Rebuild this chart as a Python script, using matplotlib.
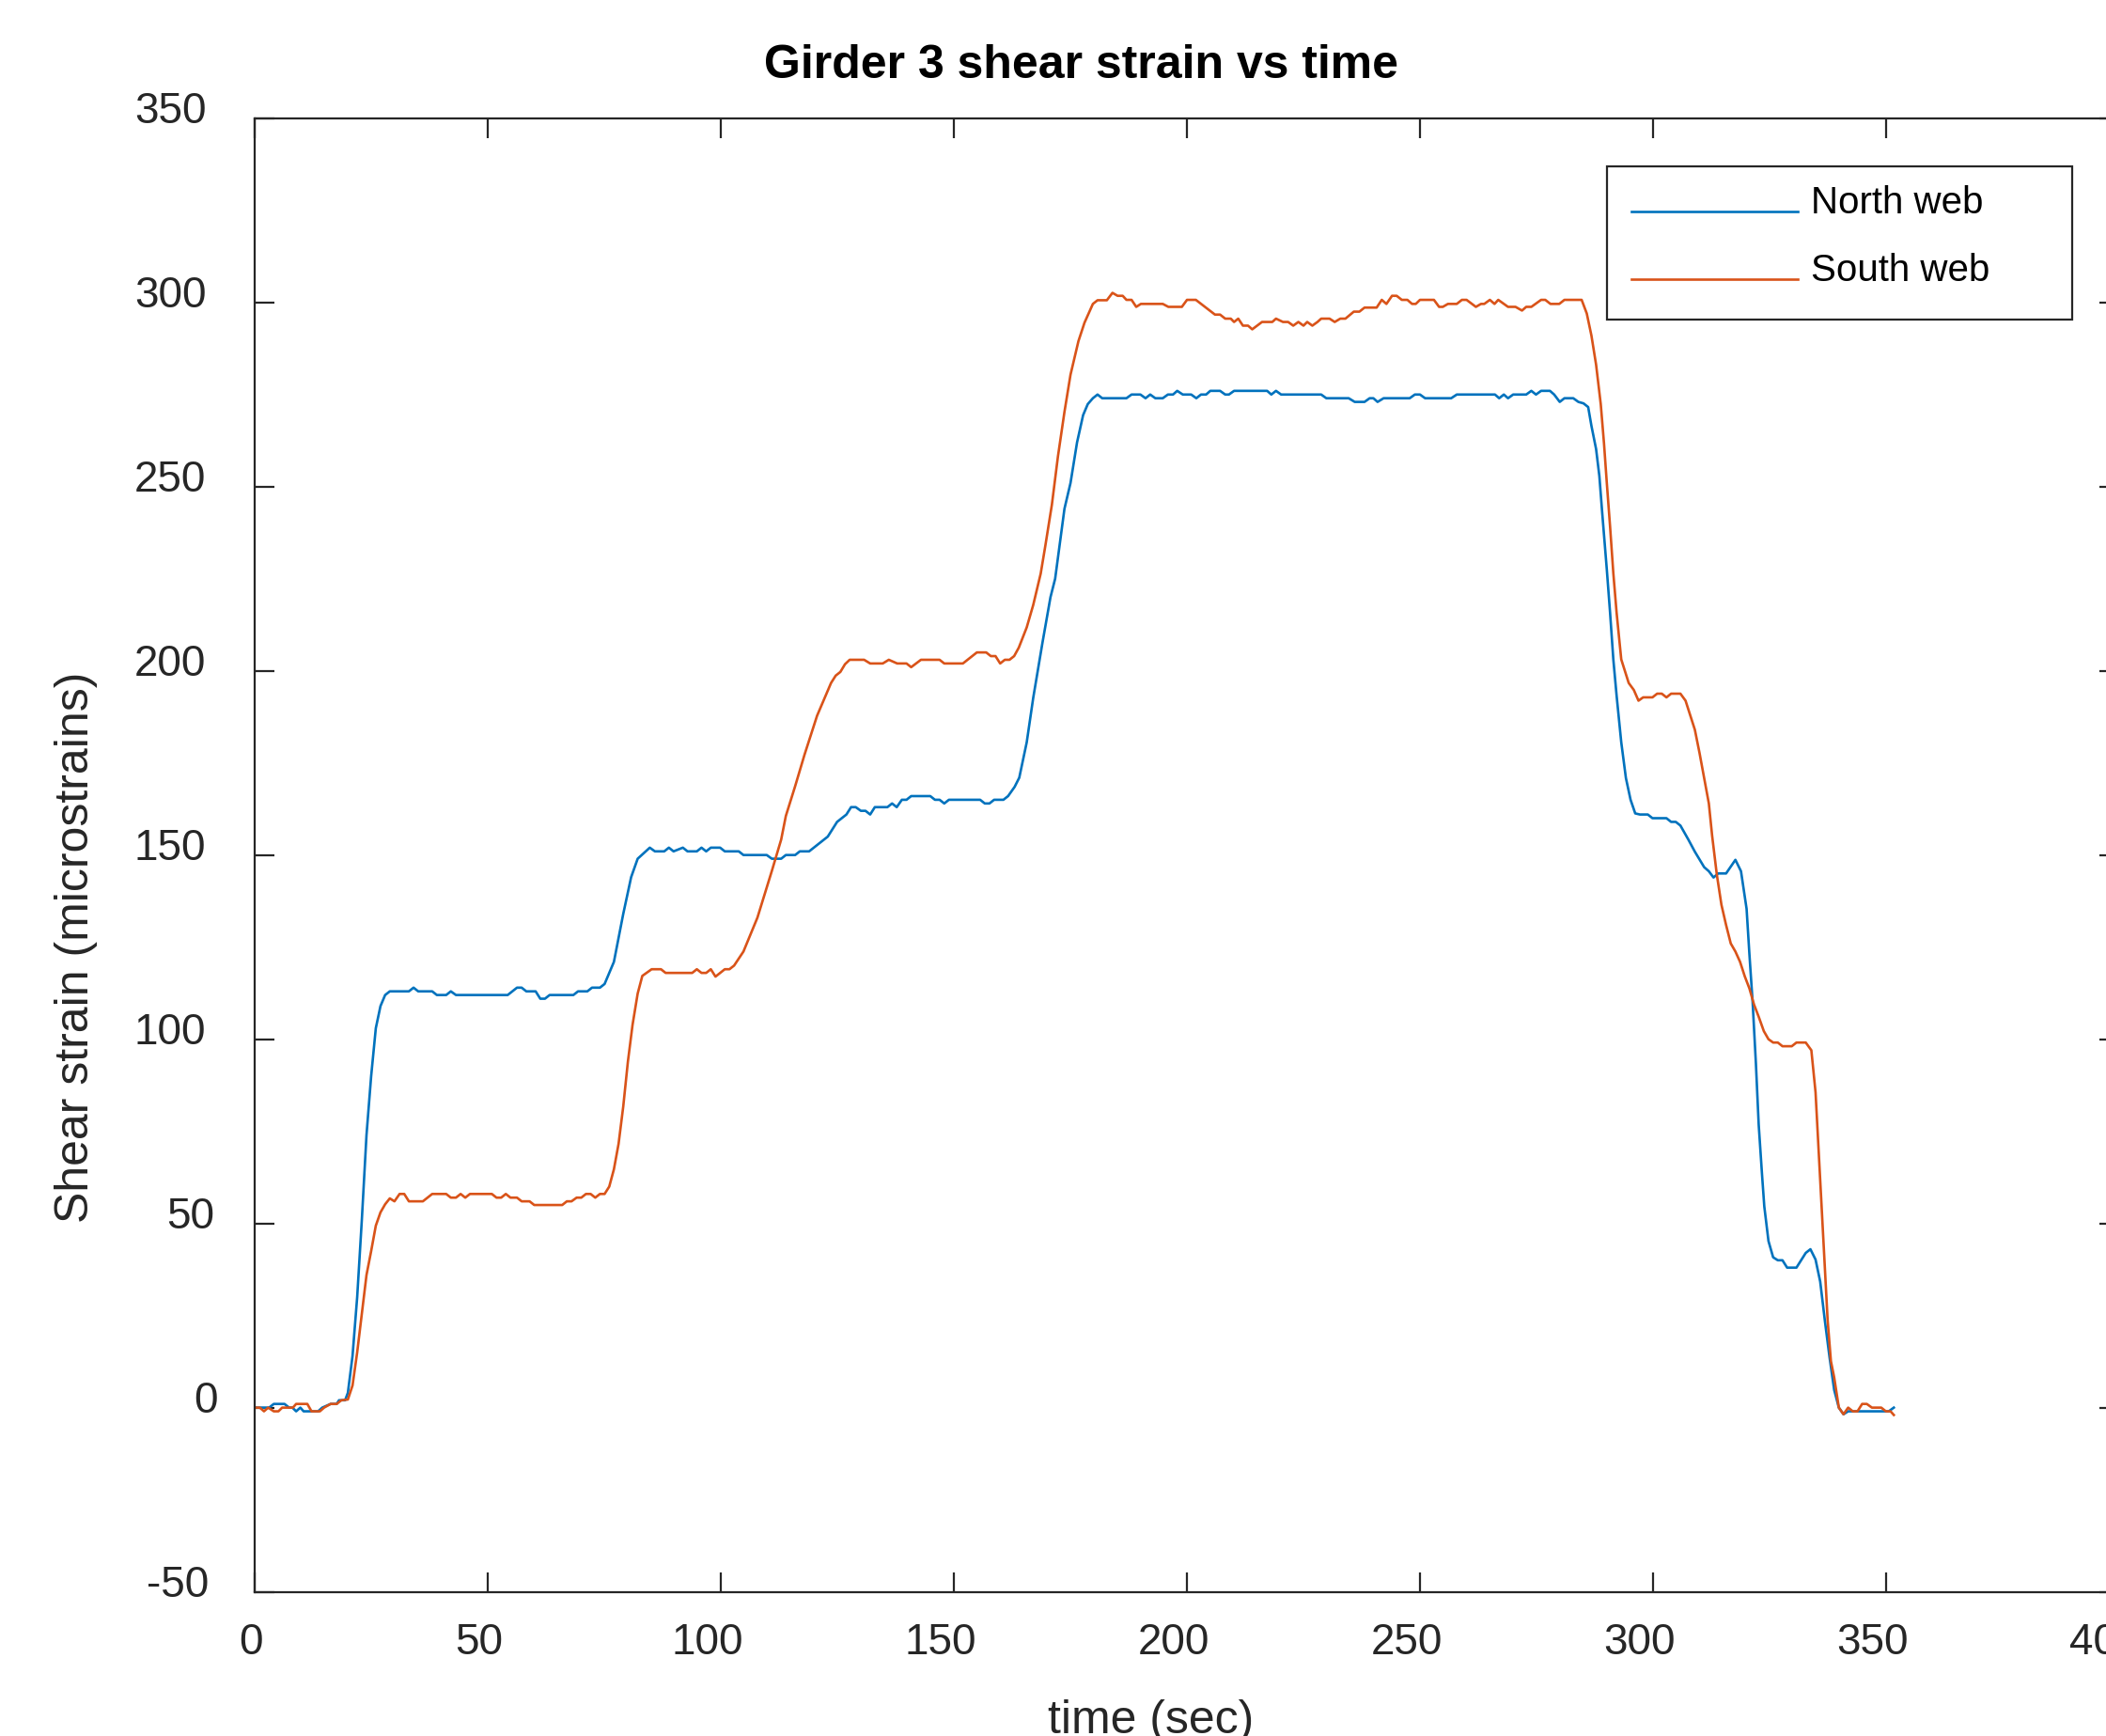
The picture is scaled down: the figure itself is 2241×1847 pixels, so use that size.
import matplotlib
matplotlib.use('Agg')
import matplotlib.pyplot as plt
from matplotlib.transforms import ScaledTranslation

plt.rcParams['font.family'] = ['Liberation Sans', 'DejaVu Sans']

# values (time in sec, strain in microstrains)
north_t = [0, 3, 4, 6.3, 7.3, 8, 8.8, 9.7, 10.4, 13.5,
           14.4, 16.2, 17.5, 18, 19.3, 19.9, 20.9, 21.9, 22.9, 23.9,
           24.9, 25.9, 26.9, 27.9, 28.9, 33, 34, 35, 38, 39,
           41, 42, 43.1, 54.2, 56.2, 57.2, 58.2, 60.2, 61.2, 62.2,
           63.2, 68.3, 69.3, 71.3, 72.3, 74, 75, 77, 79, 80.7,
           82.1, 84.7, 85.8, 87.8, 88.8, 89.8, 91.8, 92.8, 94.8, 95.8,
           96.8, 97.8, 99.8, 100.8, 103.8, 104.8, 109.8, 110.9, 112.9, 113.9,
           115.9, 116.9, 118.9, 120.9, 122.9, 124.9, 126.9, 127.9, 128.9, 130,
           131, 132, 133, 135.7, 136.7, 137.7, 138.8, 139.8, 140.8, 144.9,
           145.9, 146.9, 147.9, 148.9, 155.6, 156.6, 157.6, 158.6, 160.6, 161.6,
           163, 164, 165.6, 167, 169, 170.7, 171.7, 173.7, 175, 176.4,
           177.7, 178.7, 179.8, 180.8, 181.8, 187, 188.1, 190, 191.1, 192.1,
           193.2, 194.8, 195.9, 197, 197.9, 199.1, 200.9, 202, 203, 204.1,
           205, 207.1, 208.2, 209, 210.1, 217.2, 218.1, 219.1, 220.2, 228.8,
           229.9, 234.7, 236, 238.1, 239.2, 240, 240.9, 242.2, 247.8, 248.9,
           250, 251.1, 256.7, 257.9, 266.1, 267, 268, 268.9, 270, 272.8,
           273.9, 274.9, 276, 277.9, 278.8, 280, 281, 282.9, 284, 285.1,
           286.1, 286.8, 287.8, 288.5, 289.1, 290.1, 290.8, 291.5, 292.2, 293.2,
           294.2, 295.2, 296.2, 297.2, 298.9, 299.9, 302.9, 303.9, 304.9, 305.9,
           307.6, 309, 311, 312, 313, 314, 315.7, 317.7, 318.9, 320.1,
           320.7, 321.4, 322.1, 322.7, 323.4, 323.9, 324.8, 325.8, 326.8, 327.8,
           328.8, 330.8, 331.8, 332.8, 333.8, 334.9, 335.9, 336.9, 337.9, 338.9,
           339.9, 340.9, 341.9, 350.6, 351.7]
north_v = [0, 0, 1, 1, 0, 0, -1, 0, -1, -1,
           0, 1, 1, 2, 2, 4, 14, 30, 51, 74,
           90, 103, 109, 112, 113, 113, 114, 113, 113, 112,
           112, 113, 112, 112, 114, 114, 113, 113, 111, 111,
           112, 112, 113, 113, 114, 114, 115, 121, 134, 144,
           149, 152, 151, 151, 152, 151, 152, 151, 151, 152,
           151, 152, 152, 151, 151, 150, 150, 149, 149, 150,
           150, 151, 151, 153, 155, 159, 161, 163, 163, 162,
           162, 161, 163, 163, 164, 163, 165, 165, 166, 166,
           165, 165, 164, 165, 165, 164, 164, 165, 165, 166,
           168.5, 171, 180.6, 192.7, 207.8, 220, 225, 244, 251, 262,
           269.4, 272.4, 274, 275, 274, 274, 275, 275, 274, 275,
           274, 274, 275, 275, 276, 275, 275, 274, 275, 275,
           276, 276, 275, 275, 276, 276, 275, 276, 275, 275,
           274, 274, 273, 273, 274, 274, 273, 274, 274, 275,
           275, 274, 274, 275, 275, 274, 275, 274, 275, 275,
           276, 275, 276, 276, 275, 273, 274, 274, 273, 272.6,
           271.6, 266.5, 260.2, 252.9, 243.1, 227.5, 215.8, 203.1, 193.3, 180.6,
           170.9, 165, 161.3, 161, 161, 160, 160, 159, 159, 158,
           154.2, 150.9, 146.7, 145.6, 143.9, 145, 145, 148.7, 145.6, 135.4,
           123.2, 110, 93.4, 76.8, 63.5, 54.6, 45.2, 40.8, 40, 40,
           38, 38, 40, 42, 43, 40.2, 34.2, 23.6, 13.7, 4.8,
           0, -1.8, -1, -1, 0]

south_t = [0, 1, 1.9, 2.8, 4, 5, 5.8, 8.1, 8.8, 11.2,
           12.1, 13.9, 14.8, 16.2, 17.5, 18.5, 19.9, 20.9, 21.9, 22.9,
           23.9, 24.9, 25.9, 26.9, 27.9, 28.9, 29.9, 31, 32, 33,
           36, 38, 41, 42, 43.1, 44.1, 45.1, 46.1, 50.8, 51.8,
           52.8, 53.8, 54.8, 56.2, 57.2, 58.9, 59.9, 65.9, 66.9, 67.9,
           69, 70, 71, 72, 73, 74, 75, 76, 77, 78,
           79, 80, 81, 82.1, 83.1, 85.1, 87.1, 88.1, 93.8, 94.8,
           95.8, 96.8, 97.8, 98.8, 100.8, 101.8, 102.8, 104.8, 107.8, 110.9,
           112.9, 113.9, 115.9, 117.9, 120.6, 123.6, 124.6, 125.6, 126.6, 127.6,
           130.7, 132, 134.7, 136, 137.8, 139.8, 140.8, 142.9, 146.9, 147.9,
           151.9, 154.9, 156.9, 157.9, 158.9, 159.9, 160.9, 161.9, 162.9, 163.9,
           165.6, 167, 168.6, 169.6, 171, 172.3, 173.7, 175, 176.7, 178,
           179.8, 180.8, 182.8, 184, 185.1, 186.2, 187, 188.1, 189.1, 190.1,
           194.8, 196, 198.9, 200, 201.9, 206, 207.1, 208.2, 209.4, 210.1,
           211, 212, 213.1, 214, 216.1, 218.3, 219.1, 220.6, 221.7, 222.8,
           223.9, 225, 225.8, 226.9, 228, 228.8, 230.6, 231.7, 232.9, 234,
           235.8, 237, 238.1, 240.7, 241.8, 242.8, 244, 245, 246.1, 247.3,
           248.3, 249.1, 250, 253, 254.1, 254.9, 256, 257.9, 259, 260,
           262, 263.1, 263.8, 265, 266, 266.8, 268.9, 270.5, 271.9, 272.8,
           273.9, 276, 276.9, 278, 279.9, 281, 284.7, 285.8, 286.8, 287.8,
           288.8, 289.5, 290.1, 290.8, 291.5, 292.2, 293.2, 294.8, 295.9, 296.9,
           297.9, 299.9, 300.9, 301.9, 302.9, 303.9, 305.9, 307, 309, 310,
           312, 312.7, 313.7, 314.7, 315.7, 316.7, 317.7, 318.7, 319.7, 320.7,
           321.7, 322.7, 323.8, 324.8, 325.8, 326.8, 327.8, 329.8, 330.8, 332.8,
           334, 334.9, 335.5, 336.2, 336.9, 337.5, 338.2, 338.9, 339.9, 340.9,
           341.9, 342.9, 343.9, 344.9, 345.9, 347, 349, 350, 351, 351.7]
south_v = [0, 0, -1, 0, -1, -1, 0, 0, 1, 1,
           -1, -1, 0, 1, 1, 2, 2.2, 6, 15, 25.5,
           36, 42.5, 49.4, 53, 55.2, 56.8, 56, 58, 58, 56,
           56, 58, 58, 57, 57, 58, 57, 58, 58, 57,
           57, 58, 57, 57, 56, 56, 55, 55, 56, 56,
           57, 57, 58, 58, 57, 58, 58, 60, 64.7, 71.6,
           81.7, 93.9, 103.9, 112.4, 117.2, 119, 119, 118, 118, 119,
           118, 118, 119, 117, 119, 119, 120, 123.8, 133, 145.7,
           154.2, 160.6, 168.7, 177.2, 187.8, 196.7, 198.7, 199.7, 201.8, 203,
           203, 202, 202, 203, 202, 202, 201, 203, 203, 202,
           202, 205, 205, 204, 204, 202, 203, 203, 204, 206.3,
           211.8, 217.9, 226.4, 234, 245.1, 258.2, 270.3, 280.4, 289.5, 294.5,
           299.6, 300.6, 300.6, 302.6, 301.8, 301.8, 300.7, 300.7, 298.8, 299.6,
           299.6, 298.8, 298.8, 300.7, 300.7, 296.7, 296.7, 295.6, 295.6, 294.7,
           295.6, 293.7, 293.7, 292.7, 294.7, 294.7, 295.6, 294.7, 294.7, 293.7,
           294.7, 293.7, 294.7, 293.7, 294.7, 295.6, 295.6, 294.7, 295.6, 295.6,
           297.5, 297.5, 298.6, 298.6, 300.7, 299.6, 301.8, 301.8, 300.7, 300.7,
           299.6, 299.6, 300.7, 300.7, 298.8, 298.8, 299.6, 299.6, 300.7, 300.7,
           298.8, 299.6, 299.6, 300.7, 299.6, 300.7, 298.8, 298.8, 297.8, 298.8,
           298.8, 300.7, 300.7, 299.6, 299.6, 300.7, 300.7, 297, 291, 283.1,
           272.4, 261.7, 251, 239.2, 226.5, 215.8, 203.1, 196.7, 194.8, 191.9,
           192.8, 192.8, 193.8, 193.8, 192.8, 193.8, 193.8, 191.9, 184, 177.7,
           164, 155.3, 144.8, 136.5, 131, 126, 123.8, 121, 117.1, 113.8,
           109.4, 106.1, 102.2, 100, 99.1, 99.1, 98.1, 98.1, 99.1, 99.1,
           97, 85.6, 71.2, 54.6, 38, 23.6, 12.6, 8.2, 0, -1.8,
           0, -1, -1, 1, 1, 0, 0, -1, -1, -2]

x_ticks = [0, 50, 100, 150, 200, 250, 300, 350, 400]
y_ticks = [-50, 0, 50, 100, 150, 200, 250, 300, 350]

axis_col = '#262626'


def text_shift(s):
    # labels in the reference sit a bit left of their tick, more for wider labels
    w = sum(14.8 if c == '-' else 24.7 for c in s)
    return -0.19 * w / 100.0


# y labels measured one by one (px)
y_shift = {'-50': -11, '0': -1.5, '50': -5}

fig = plt.figure(figsize=(22.41, 18.47), dpi=100)
ax = fig.add_axes([0.12115, 0.08305, 0.88496, 0.84884])

ax.plot(north_t, north_v, color='#0072BD', lw=1.9, label='North web')
ax.plot(south_t, south_v, color='#D95319', lw=1.9, label='South web')

ax.set_xlim(0, 400)
ax.set_ylim(-50, 350)
ax.set_xticks(x_ticks, [str(t) for t in x_ticks])
ax.set_yticks(y_ticks, [str(t) for t in y_ticks])
ax.tick_params(direction='in', length=15, width=1.6, top=True, right=True,
               labelsize=33, colors=axis_col)
ax.tick_params(axis='x', pad=23)
ax.tick_params(axis='y', pad=27.5)
for sp in ax.spines.values():
    sp.set_color(axis_col)
    sp.set_linewidth(1.6)

for lab in ax.get_xticklabels():
    lab.set_transform(lab.get_transform() +
                      ScaledTranslation(text_shift(lab.get_text()), 0, fig.dpi_scale_trans))
for lab in ax.get_yticklabels():
    s = lab.get_text()
    dx = y_shift.get(s, -14) / 100.0
    lab.set_transform(lab.get_transform() +
                      ScaledTranslation(dx, 0.12, fig.dpi_scale_trans))

ax.set_title('Girder 3 shear strain vs time', fontsize=36, fontweight='bold',
             color='black', pad=31, x=0.443)
ax.set_xlabel('time (sec)', fontsize=36, color=axis_col)
ax.xaxis.set_label_coords(0.4808, -0.073)
ax.set_ylabel('Shear strain (microstrains)', fontsize=36, color=axis_col,
              va='center', ha='center')
ax.yaxis.set_label_coords(-0.096, 0.4373)

leg = ax.legend(loc='upper left', bbox_to_anchor=(0.7253, 0.8621, 0.2496, 0.1052),
                mode='expand', borderaxespad=0, fontsize=29, handlelength=4.4,
                handletextpad=0.35, borderpad=0.65, labelspacing=0.85,
                fancybox=False, edgecolor=axis_col, framealpha=1)
leg.get_frame().set_linewidth(1.6)
# in the reference the legend text sits a little above its line
for hl in leg.get_lines():
    hl.set_ydata([y - 4.3 for y in hl.get_ydata()])
for tx in leg.get_texts():
    tx.set_y(6)

fig.savefig('out.png', dpi=100)
plt.close(fig)
